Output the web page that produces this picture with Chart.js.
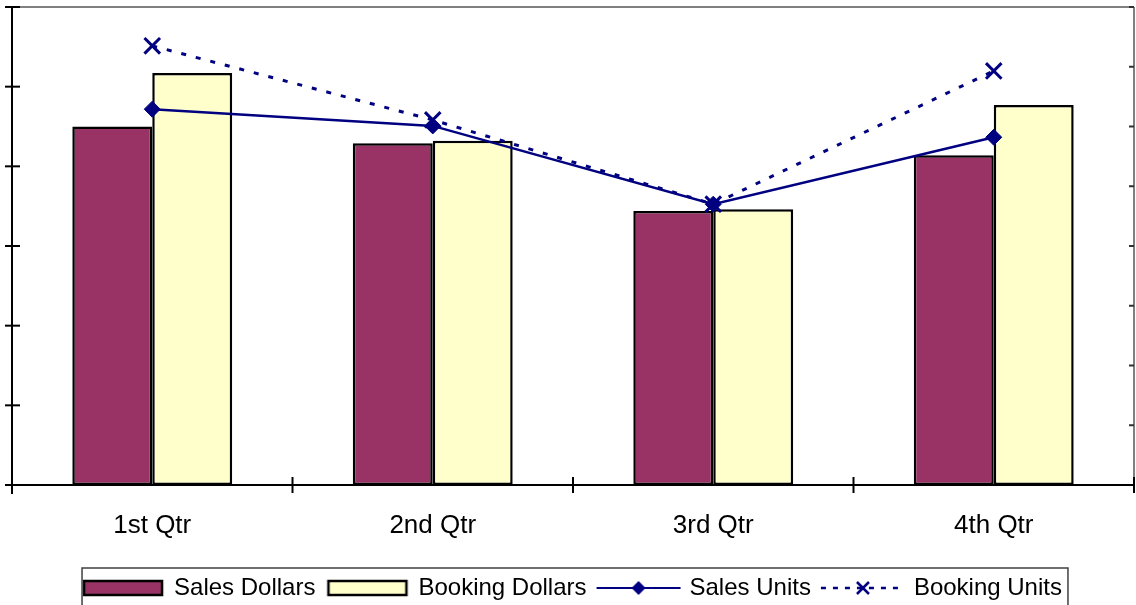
<!DOCTYPE html>
<html><head><meta charset="utf-8">
<script src="https://cdn.jsdelivr.net/npm/chart.js@4.4.0/dist/chart.umd.min.js"></script>
<style>html,body{margin:0;padding:0;background:#fff;overflow:hidden}#wrap{width:1136px;height:605px;position:relative}</style>
</head><body><div id="wrap"><canvas id="c" width="1136" height="605"></canvas></div>
<script>
const categories = ['1st Qtr', '2nd Qtr', '3rd Qtr', '4th Qtr'];
const salesDollars = [4.50, 4.29, 3.44, 4.14];
const bookingDollars = [5.17, 4.32, 3.46, 4.77];
const salesUnits = [6.29, 6.01, 4.70, 5.82];
const bookingUnits = [7.35, 6.11, 4.70, 6.93];
const leftTicks = [0, 1, 2, 3, 4, 5, 6];
const rightTicks = [0, 1, 2, 3, 4, 5, 6, 7, 8];

const NAVY = '#000080';
const FONT = '"Liberation Sans", Arial, sans-serif';

function barSwatch(fill) {
  const c = document.createElement('canvas');
  c.width = 84; c.height = 18;
  const x = c.getContext('2d');
  x.fillStyle = fill; x.fillRect(3, 2, 78, 14);
  x.strokeStyle = '#000'; x.lineWidth = 2.5; x.strokeRect(3, 2, 78, 14);
  return c;
}
function lineSwatch(dashed, marker) {
  const c = document.createElement('canvas');
  c.width = 86; c.height = 20;
  const x = c.getContext('2d');
  x.strokeStyle = NAVY; x.lineWidth = dashed ? 2.5 : 2;
  if (dashed) x.setLineDash([5, 7]);
  x.beginPath(); x.moveTo(1, 10); x.lineTo(85, 10); x.stroke();
  x.setLineDash([]);
  if (marker === 'diamond') {
    x.fillStyle = NAVY; x.beginPath();
    x.moveTo(43 - 7, 10); x.lineTo(43, 3); x.lineTo(43 + 7, 10); x.lineTo(43, 17); x.closePath(); x.fill();
  } else {
    x.lineWidth = 2.5; x.beginPath();
    x.moveTo(37, 4); x.lineTo(49, 16); x.moveTo(49, 4); x.lineTo(37, 16); x.stroke();
  }
  return c;
}
const swatches = [barSwatch('#993366'), barSwatch('#FFFFCC'), lineSwatch(false, 'diamond'), lineSwatch(true, 'x')];

const axesPlugin = {
  id: 'axesDraw',
  afterLayout(chart) {
    chart.legend.top += 5; chart.legend.bottom += 5;
  },
  beforeDatasetsDraw(chart) {
    const { ctx, chartArea: a, scales } = chart;
    const ln = (x1, y1, x2, y2) => { ctx.beginPath(); ctx.moveTo(x1, y1); ctx.lineTo(x2, y2); ctx.stroke(); };
    ctx.save();
    ctx.strokeStyle = '#808080'; ctx.lineWidth = 2;
    ln(a.left, a.top, a.right, a.top);
    ln(a.right, a.top, a.right, a.bottom);
    ctx.strokeStyle = '#303030';
    rightTicks.forEach(v => { const y = scales.y1.getPixelForValue(v); ln(a.right - 5, y, a.right, y); });
    ctx.strokeStyle = '#000';
    ln(a.left, a.top, a.left, a.bottom + 9);
    leftTicks.forEach(v => { const y = scales.y.getPixelForValue(v); ln(a.left - 7, y, a.left + 8, y); });
    ln(a.left - 7, a.bottom, a.right, a.bottom);
    const n = categories.length;
    for (let i = 1; i <= n; i++) {
      const x = a.left + i * (a.right - a.left) / n;
      ln(x, a.bottom - 8, x, a.bottom + 8);
    }
    ctx.restore();
  },
  afterDraw(chart) {
    const lg = chart.legend, hb = lg.legendHitBoxes;
    if (!hb || !hb.length) return;
    const ctx = chart.ctx;
    const l = hb[0].left - 2, r = hb[hb.length - 1].left + hb[hb.length - 1].width + 6;
    const t = lg.top + 5;
    ctx.save();
    ctx.strokeStyle = '#404040'; ctx.lineWidth = 1.5;
    ctx.strokeRect(l, t, r - l, 60);
    ctx.restore();
  }
};

new Chart(document.getElementById('c'), {
  data: {
    labels: categories,
    datasets: [
      { type: 'bar', label: 'Sales Dollars', data: salesDollars, backgroundColor: '#993366', borderColor: '#000', borderWidth: 2.5, borderSkipped: false, yAxisID: 'y', order: 2 },
      { type: 'bar', label: 'Booking Dollars', data: bookingDollars, backgroundColor: '#FFFFCC', borderColor: '#000', borderWidth: 2.5, borderSkipped: false, yAxisID: 'y', order: 2 },
      { type: 'line', label: 'Sales Units', data: salesUnits, borderColor: NAVY, backgroundColor: NAVY, borderWidth: 2.5, tension: 0, pointStyle: 'rectRot', pointRadius: 8, pointBorderWidth: 1, yAxisID: 'y1', order: 1 },
      { type: 'line', label: 'Booking Units', data: bookingUnits, borderColor: NAVY, backgroundColor: NAVY, borderWidth: 3, borderDash: [5, 10], tension: 0, pointStyle: 'crossRot', pointRadius: 11, pointBorderWidth: 3, yAxisID: 'y1', order: 0 }
    ]
  },
  options: {
    responsive: false, devicePixelRatio: 1, animation: false,
    layout: { autoPadding: false, padding: { left: 12, right: 2, top: 7, bottom: 0 } },
    datasets: { bar: { categoryPercentage: 0.57, barPercentage: 1.0 } },
    scales: {
      x: {
        grid: { display: false, drawTicks: false }, border: { display: false },
        ticks: { color: '#000', font: { family: FONT, size: 26 }, padding: 25, maxRotation: 0 },
        afterFit: s => { s.height = 73; }
      },
      y: { display: false, min: 0, max: 6, position: 'left' },
      y1: { display: false, min: 0, max: 8, position: 'right' }
    },
    plugins: {
      tooltip: { enabled: false },
      legend: {
        position: 'bottom',
        labels: {
          usePointStyle: true, pointStyleWidth: 78, padding: 13, color: '#000',
          font: { family: FONT, size: 24 },
          generateLabels: chart => chart.data.datasets.map((d, i) => ({
            text: d.label, pointStyle: swatches[i], datasetIndex: i, hidden: false,
            fillStyle: 'rgba(0,0,0,0)', strokeStyle: 'rgba(0,0,0,0)', lineWidth: 0, fontColor: '#000'
          }))
        }
      }
    }
  },
  plugins: [axesPlugin]
});
</script></body></html>
